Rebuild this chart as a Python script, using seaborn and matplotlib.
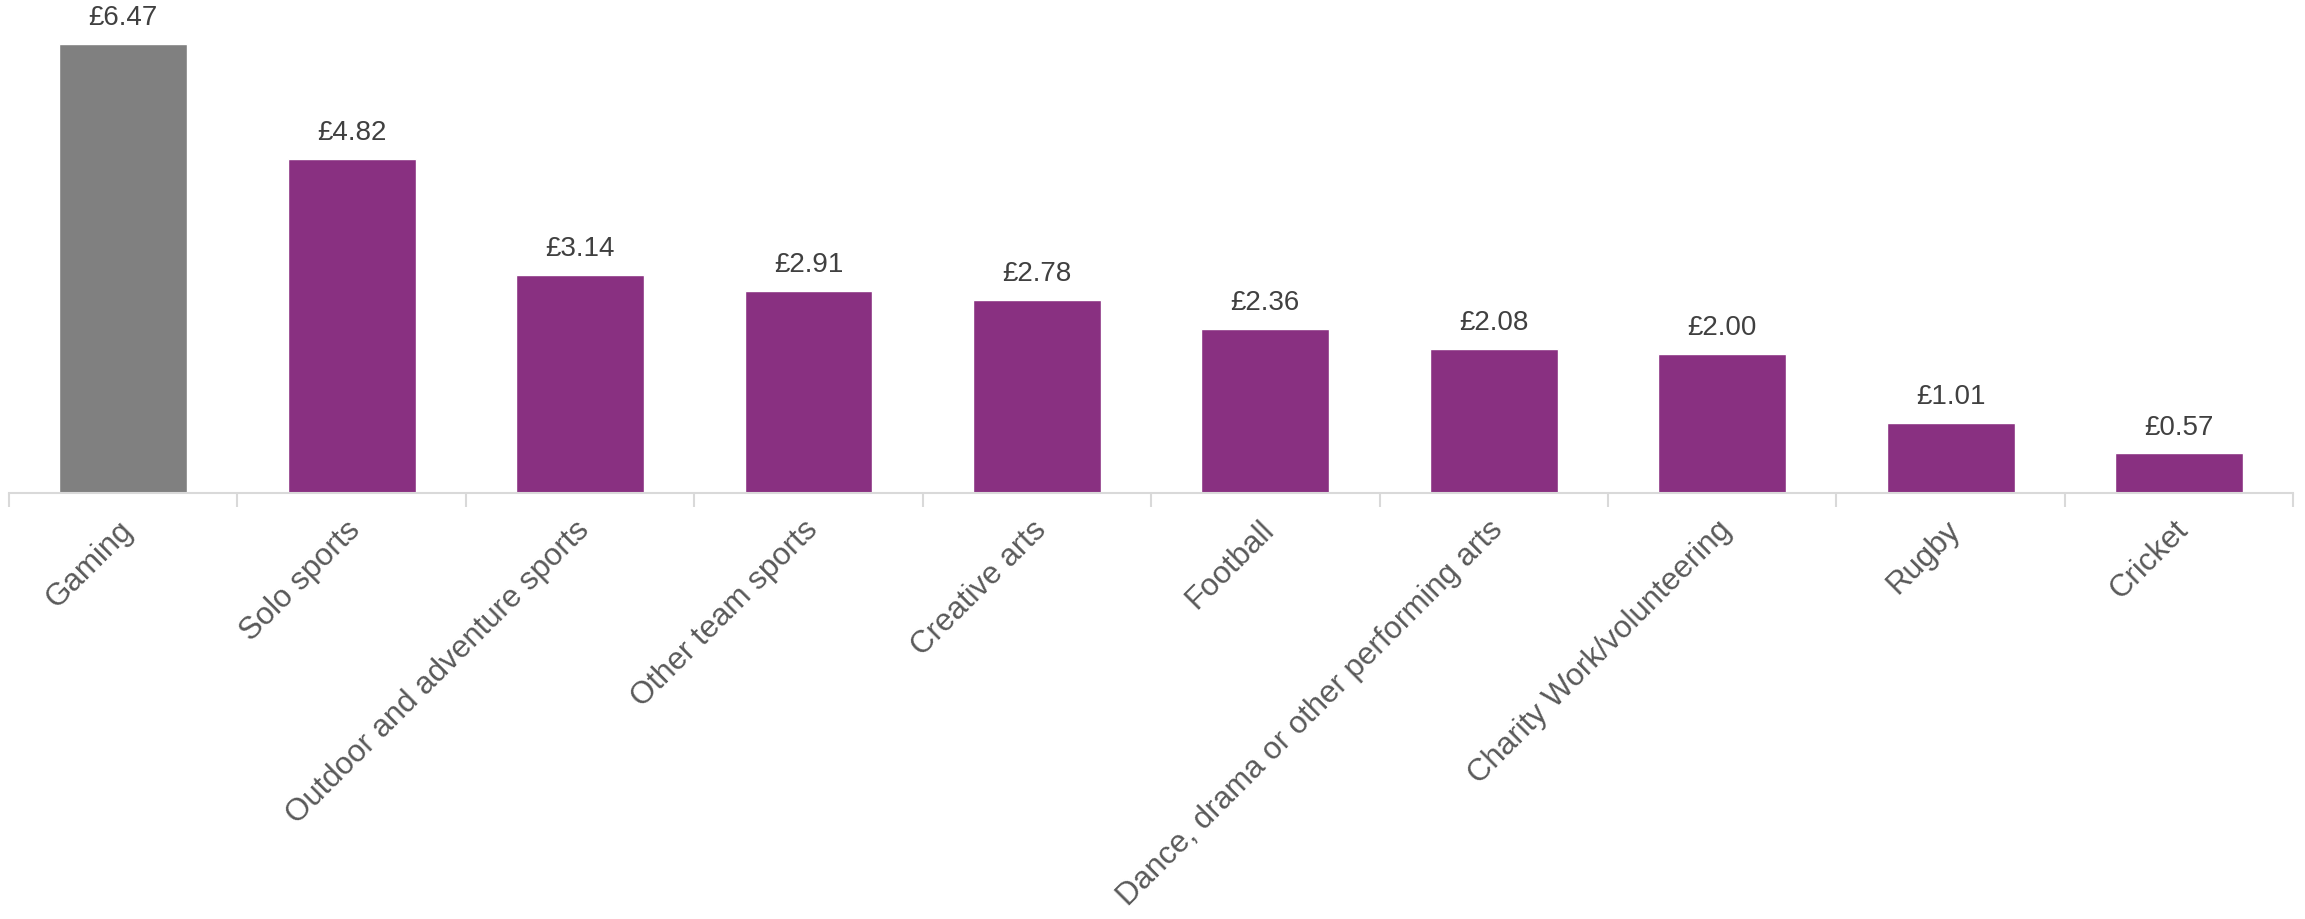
import seaborn as sns
import matplotlib.pyplot as plt
import matplotlib.transforms as mtransforms
from matplotlib.ticker import FixedLocator
import numpy as np

categories = ['Gaming', 'Solo sports', 'Outdoor and adventure sports', 'Other team sports',
              'Creative arts', 'Football', 'Dance, drama or other performing arts',
              'Charity Work/volunteering', 'Rugby', 'Cricket']
values = [6.47, 4.82, 3.14, 2.91, 2.78, 2.36, 2.08, 2.00, 1.01, 0.57]
bar_colors = ['#808080'] + ['#893081'] * 9

sns.set_style('white')
plt.rcParams['font.family'] = ['Liberation Sans', 'DejaVu Sans']

fig = plt.figure(figsize=(23.05, 9.2), dpi=100)
ax = fig.add_axes([0.0039, 0.463, 0.991, 0.537])

sns.barplot(x=categories, y=values, hue=categories, palette=bar_colors,
            legend=False, width=0.56, saturation=1, ax=ax)

# value labels above bars
for i, v in enumerate(values):
    ax.annotate(f'£{v:.2f}', (i, v), xytext=(0, 10), textcoords='offset points',
                ha='center', va='bottom', fontsize=20, color='#404040')

ax.set_xlim(-0.5, len(categories) - 0.5)
ax.set_ylim(0, 7.12)
ax.set_yticks([])
for s in ['top', 'right', 'left']:
    ax.spines[s].set_visible(False)
ax.spines['bottom'].set_color('#d9d9d9')
ax.spines['bottom'].set_linewidth(1.5)

# tick marks between categories
ax.xaxis.set_minor_locator(FixedLocator(np.arange(-0.5, len(categories), 1.0)))
ax.tick_params(axis='x', which='minor', length=10, width=1.5, color='#d9d9d9', bottom=True)
ax.tick_params(axis='x', which='major', length=0, pad=15)
ax.set_xticks(range(len(categories)))
ax.set_xticklabels(categories, rotation=45, ha='right', rotation_mode='anchor',
                   fontsize=22.5, color='#595959')
shift = mtransforms.ScaledTranslation(-6 / 100, 0, fig.dpi_scale_trans)
for lbl in ax.get_xticklabels():
    lbl.set_transform(lbl.get_transform() + shift)
ax.set_xlabel('')
ax.set_ylabel('')

fig.savefig('out.png', dpi=100)
